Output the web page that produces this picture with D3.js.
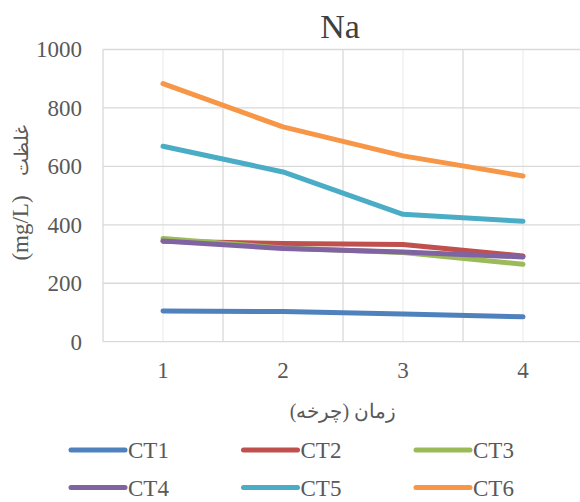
<!DOCTYPE html>
<html>
<head>
<meta charset="utf-8">
<script src="https://cdn.jsdelivr.net/npm/d3@7"></script>
<style>
  html, body { margin: 0; padding: 0; background: #fff; }
  svg { display: block; }
</style>
</head>
<body>
<svg id="chart" width="580" height="502"></svg>
<script>
// Sodium concentration per cycle for six treatments
const cycles = ["1", "2", "3", "4"];
const seriesNames = ["CT1", "CT2", "CT3", "CT4", "CT5", "CT6"];
const CT1 = [105, 103, 95, 85];
const CT2 = [344, 336, 333, 293];
const CT3 = [353, 321, 305, 265];
const CT4 = [345, 319, 307, 290];
const CT5 = [669, 581, 436, 412];
const CT6 = [883, 735, 636, 567];
const yTicks = [0, 200, 400, 600, 800, 1000];
const colors = ["#4F81BD", "#C0504D", "#9BBB59", "#8064A2", "#4BACC6", "#F79646"];

const seriesValues = [CT1, CT2, CT3, CT4, CT5, CT6];
const series = seriesNames.map((name, i) => ({ name, values: seriesValues[i], color: colors[i] }));

const svg = d3.select("#chart");
const plot = { left: 103, right: 583, top: 49.5, bottom: 341.7 };
const textColor = "#595959";
const serif = "Liberation Serif";

const x = d3.scaleBand().domain(cycles).range([plot.left, plot.right]).paddingInner(0).paddingOuter(0);
const xc = d => x(d) + x.bandwidth() / 2;
const y = d3.scaleLinear().domain([0, 1000]).range([plot.bottom, plot.top]);

const grid = svg.append("g");
// light gridlines through each category centre
grid.selectAll("line.minor").data(cycles).join("line")
  .attr("class", "minor")
  .attr("x1", d => xc(d)).attr("x2", d => xc(d))
  .attr("y1", plot.top).attr("y2", plot.bottom)
  .attr("stroke", "#efefef").attr("stroke-width", 1.3);
// darker gridlines on the category boundaries
const bounds = cycles.map(d => x(d)).concat([plot.right]);
grid.selectAll("line.major").data(bounds).join("line")
  .attr("class", "major")
  .attr("x1", d => d).attr("x2", d => d)
  .attr("y1", plot.top).attr("y2", plot.bottom)
  .attr("stroke", "#d9d9d9").attr("stroke-width", 1.3);
// horizontal value gridlines
grid.selectAll("line.h").data(yTicks).join("line")
  .attr("class", "h")
  .attr("x1", plot.left).attr("x2", plot.right)
  .attr("y1", d => y(d)).attr("y2", d => y(d))
  .attr("stroke", "#d9d9d9").attr("stroke-width", 1.3);

// y axis labels
const yAxis = d3.axisLeft(y).tickValues(yTicks).tickFormat(d3.format("d")).tickSize(0).tickPadding(21);
const gy = svg.append("g").attr("transform", `translate(${plot.left},0)`).call(yAxis);
gy.attr("font-family", serif).attr("font-size", 23);
gy.select(".domain").remove();
gy.selectAll("text").attr("fill", textColor);

// x axis labels
const xAxis = d3.axisBottom(x).tickSize(0).tickPadding(20);
const gx = svg.append("g").attr("transform", `translate(0,${plot.bottom})`).call(xAxis);
gx.attr("font-family", serif).attr("font-size", 23);
gx.select(".domain").remove();
gx.selectAll("text").attr("fill", textColor);

// series lines
const line = d3.line().x((d, i) => xc(cycles[i])).y(d => y(d));
svg.append("g").selectAll("path").data(series).join("path")
  .attr("d", s => line(s.values))
  .attr("fill", "none")
  .attr("stroke", s => s.color)
  .attr("stroke-width", 5)
  .attr("stroke-linecap", "round")
  .attr("stroke-linejoin", "round");

// title
svg.append("text").attr("x", 340).attr("y", 38).attr("text-anchor", "middle")
  .attr("font-family", serif).attr("font-size", 34).attr("fill", "#404040").text("Na");

// y axis title: unit and Persian word drawn as two pieces along the axis
svg.append("text").attr("transform", "translate(28,228) rotate(-90)")
  .attr("text-anchor", "middle").attr("font-family", serif).attr("font-size", 23)
  .attr("fill", textColor)
  .text("(mg/L)");
svg.append("text").attr("transform", "translate(28,150) rotate(-90)")
  .attr("text-anchor", "middle").attr("font-family", serif).attr("font-size", 19)
  .attr("fill", textColor)
  .attr("direction", "rtl")
  .text("غلظت");

// x axis title
svg.append("text").attr("x", 343).attr("y", 418).attr("text-anchor", "middle")
  .attr("font-family", serif).attr("font-size", 20).attr("fill", textColor)
  .attr("direction", "rtl")
  .text("زمان (چرخه)");

// legend
const legend = svg.append("g").attr("font-family", serif).attr("font-size", 23);
const item = legend.selectAll("g").data(series).join("g")
  .attr("transform", (d, i) => `translate(${71 + (i % 3) * 172.5},${450 + Math.floor(i / 3) * 37.5})`);
item.append("line").attr("x1", 0).attr("x2", 54).attr("y1", 0).attr("y2", 0)
  .attr("stroke", d => d.color).attr("stroke-width", 5).attr("stroke-linecap", "round");
item.append("text").attr("x", 57).attr("y", 8).attr("fill", textColor)
  .text(d => d.name);
</script>
</body>
</html>
